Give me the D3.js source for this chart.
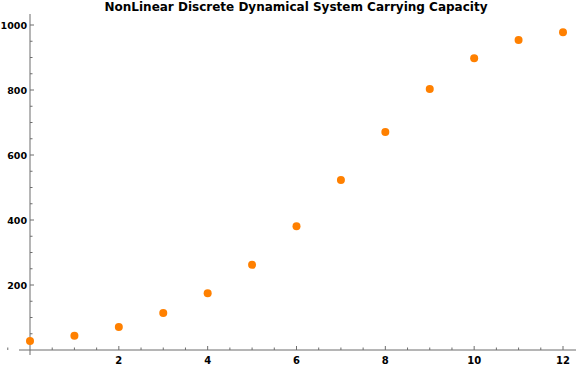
<!DOCTYPE html>
<html>
<head>
<meta charset="utf-8">
<script src="https://cdnjs.cloudflare.com/ajax/libs/d3/7.8.5/d3.min.js"></script>
<style>
body { margin: 0; background: #fff; }
text { font-family: "DejaVu Sans", sans-serif; }
</style>
</head>
<body>
<div id="chart"></div>
<script>
var width = 576
var height = 367

// data
var steps = [0, 1, 2, 3, 4, 5, 6, 7, 8, 9, 10, 11, 12]
var population = [28, 44, 71, 114, 175, 262, 381, 523, 671, 803, 898, 954, 978]
var x_ticks = [2, 4, 6, 8, 10, 12]
var y_ticks = [200, 400, 600, 800, 1000]

var x = d3.scaleLinear().domain([0, 12]).range([30, 563])
var y = d3.scaleLinear().domain([0, 1000]).range([350, 25])

var svg = d3.select('#chart')
  .append('svg')
  .attr('width', width)
  .attr('height', height)

svg.append('text')
  .attr('x', 296)
  .attr('y', 11)
  .attr('text-anchor', 'middle')
  .style('font-weight', 'bold')
  .style('font-size', '12px')
  .text('NonLinear Discrete Dynamical System Carrying Capacity')

var axis_col = '#6d6d6d'

// x axis (ticks point up, Mathematica style)
var x_minor = d3.range(-0.5, 12.6, 0.5).filter(function(d) { return d % 2 !== 0 })
var gx = svg.append('g').attr('transform', 'translate(0,' + y(0) + ')')
gx.append('line')
  .attr('x1', 19).attr('x2', 576)
  .attr('stroke', axis_col)
gx.selectAll('.maj').data(x_ticks).enter().append('line')
  .attr('x1', function(d) { return x(d) }).attr('x2', function(d) { return x(d) })
  .attr('y1', 0).attr('y2', -4)
  .attr('stroke', axis_col)
gx.selectAll('.min').data(x_minor).enter().append('line')
  .attr('x1', function(d) { return x(d) }).attr('x2', function(d) { return x(d) })
  .attr('y1', 0).attr('y2', -2.5)
  .attr('stroke', axis_col)
gx.selectAll('text').data(x_ticks).enter().append('text')
  .attr('x', function(d) { return x(d) })
  .attr('y', 14)
  .attr('text-anchor', 'middle')
  .style('font-weight', 'bold')
  .style('font-size', '10px')
  .text(function(d) { return d })

// y axis (ticks point right)
var y_minor = d3.range(50, 1001, 50).filter(function(d) { return d % 200 !== 0 })
var gy = svg.append('g').attr('transform', 'translate(' + x(0) + ',0)')
gy.append('line')
  .attr('y1', 14).attr('y2', 355)
  .attr('stroke', axis_col)
gy.selectAll('.maj').data(y_ticks).enter().append('line')
  .attr('y1', function(d) { return y(d) }).attr('y2', function(d) { return y(d) })
  .attr('x1', 0).attr('x2', 4)
  .attr('stroke', axis_col)
gy.selectAll('.min').data(y_minor).enter().append('line')
  .attr('y1', function(d) { return y(d) }).attr('y2', function(d) { return y(d) })
  .attr('x1', 0).attr('x2', 2.5)
  .attr('stroke', axis_col)
gy.selectAll('text').data(y_ticks).enter().append('text')
  .attr('x', -3)
  .attr('y', function(d) { return y(d) })
  .attr('dy', '0.45em')
  .attr('text-anchor', 'end')
  .style('font-weight', 'bold')
  .style('font-size', '9.5px')
  .text(function(d) { return d })

// points
svg.selectAll('circle')
  .data(steps)
  .enter()
  .append('circle')
  .attr('cx', function(d, i) { return x(d) })
  .attr('cy', function(d, i) { return y(population[i]) })
  .attr('r', 4)
  .style('fill', '#ff8000')
</script>
</body>
</html>
